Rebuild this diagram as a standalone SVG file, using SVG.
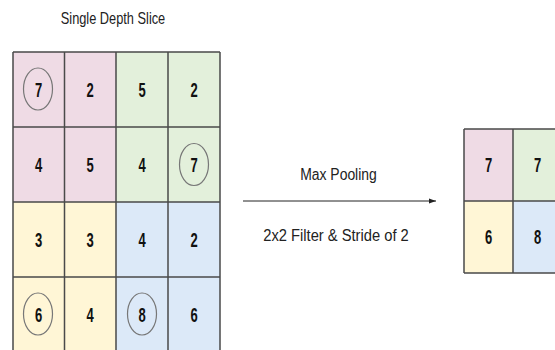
<svg xmlns="http://www.w3.org/2000/svg" width="555" height="350" viewBox="0 0 555 350">
<defs>
<style>
.pk{fill:#efdbe5}.gr{fill:#e3f0db}.ye{fill:#fff6d6}.bl{fill:#dce9f8}
.ln{stroke:#4a4a4a;stroke-width:1.5;fill:none}
.num{font-family:"Liberation Sans",Arial,sans-serif;font-weight:bold;font-size:21px;fill:#111;text-anchor:middle}
.lbl{font-family:"Liberation Sans",Arial,sans-serif;font-size:16px;fill:#222;text-anchor:middle}
.cir{fill:none;stroke:#777;stroke-width:1.2}
</style>
<marker id="ah" markerWidth="8" markerHeight="8" refX="7" refY="4" orient="auto" markerUnits="userSpaceOnUse">
<path d="M0,1.5 L7,4 L0,6.5 Z" fill="#222"/>
</marker>
</defs>
<rect width="555" height="350" fill="#ffffff"/>
<g id="title"><text class="lbl" transform="translate(113,24) scale(0.8,1)" font-size="17">Single Depth Slice</text></g>
<g id="input-grid">
<rect class="pk" x="13" y="52" width="103" height="150"/>
<rect class="gr" x="116" y="52" width="104" height="150"/>
<rect class="ye" x="13" y="202" width="103" height="148"/>
<rect class="bl" x="116" y="202" width="104" height="148"/>
<path class="ln" d="M13,52 H220 M13,127 H220 M13,202 H220 M13,277 H220 M13,52 V350 M64.5,52 V350 M116,52 V350 M168,52 V350 M220,52 V350"/>
<ellipse class="cir" cx="38" cy="89" rx="14.5" ry="21"/>
<ellipse class="cir" cx="194" cy="164.5" rx="14.5" ry="21"/>
<ellipse class="cir" cx="38" cy="314" rx="14.5" ry="21"/>
<ellipse class="cir" cx="142" cy="314" rx="14.5" ry="21"/>
<text class="num" transform="translate(38.5,97) scale(0.62,1)">7</text>
<text class="num" transform="translate(90,97) scale(0.62,1)">2</text>
<text class="num" transform="translate(142,97) scale(0.62,1)">5</text>
<text class="num" transform="translate(194,97) scale(0.62,1)">2</text>
<text class="num" transform="translate(38.5,172) scale(0.62,1)">4</text>
<text class="num" transform="translate(90,172) scale(0.62,1)">5</text>
<text class="num" transform="translate(142,172) scale(0.62,1)">4</text>
<text class="num" transform="translate(194,172) scale(0.62,1)">7</text>
<text class="num" transform="translate(38.5,247) scale(0.62,1)">3</text>
<text class="num" transform="translate(90,247) scale(0.62,1)">3</text>
<text class="num" transform="translate(142,247) scale(0.62,1)">4</text>
<text class="num" transform="translate(194,247) scale(0.62,1)">2</text>
<text class="num" transform="translate(38.5,322) scale(0.62,1)">6</text>
<text class="num" transform="translate(90,322) scale(0.62,1)">4</text>
<text class="num" transform="translate(142,322) scale(0.62,1)">8</text>
<text class="num" transform="translate(194,322) scale(0.62,1)">6</text>
</g>
<g id="connectors">
<line x1="243" y1="201" x2="436" y2="201" stroke="#222" stroke-width="1" marker-end="url(#ah)"/>
</g>
<g id="op-labels">
<text class="lbl" transform="translate(338.5,180) scale(0.87,1)">Max Pooling</text>
<text class="lbl" transform="translate(336,241) scale(0.92,1)">2x2 Filter &amp; Stride of 2</text>
</g>
<g id="output-grid">
<rect class="pk" x="464" y="129" width="49" height="72"/>
<rect class="gr" x="513" y="129" width="49" height="72"/>
<rect class="ye" x="464" y="201" width="49" height="72"/>
<rect class="bl" x="513" y="201" width="49" height="72"/>
<path class="ln" d="M464,129 H562 M464,201 H562 M464,273 H562 M464,129 V273 M513,129 V273"/>
<text class="num" transform="translate(488.5,172) scale(0.62,1)">7</text>
<text class="num" transform="translate(537.5,172) scale(0.62,1)">7</text>
<text class="num" transform="translate(488.5,244) scale(0.62,1)">6</text>
<text class="num" transform="translate(537.5,244) scale(0.62,1)">8</text>
</g>
</svg>
